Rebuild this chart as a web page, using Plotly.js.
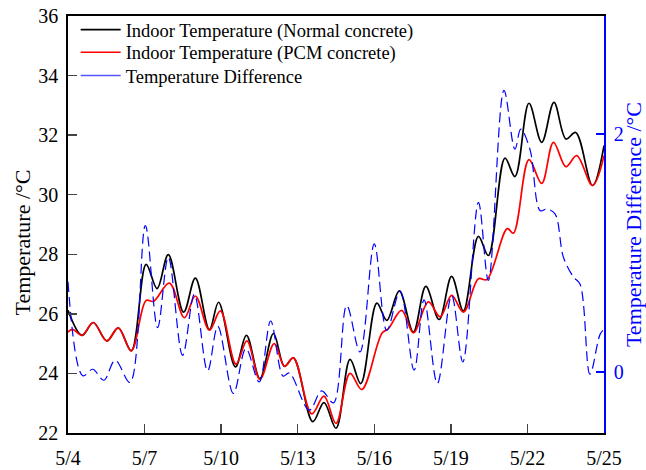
<!DOCTYPE html>
<html>
<head>
<meta charset="utf-8">
<script src="https://cdn.plot.ly/plotly-3.0.1.min.js"></script>
<style>html,body{margin:0;padding:0;background:#fff;}#chart{width:646px;height:470px;}</style>
</head>
<body>
<div id="chart"></div>
<script>
// Day offsets from 5/4
const tickDays = [0, 3, 6, 9, 12, 15, 18, 21];
const tickLabels = ['5/4', '5/7', '5/10', '5/13', '5/16', '5/19', '5/22', '5/25'];

const normalDays = [0, 0.55, 0.99, 1.52, 1.97, 2.48, 3.06, 3.49, 3.93, 4.53, 4.99, 5.54, 5.90, 6.56, 6.99, 7.52, 8.05, 8.48, 8.83, 9.59, 10.03, 10.5, 11.05, 11.47, 12.1, 12.49, 12.98, 13.53, 14.02, 14.54, 15.03, 15.49, 16.08, 16.47, 17.12, 17.51, 18.06, 18.56, 19.04, 19.51, 19.89, 20.55, 21];
const normalTemp = [26.12, 25.28, 25.71, 25.09, 25.53, 24.76, 27.66, 26.85, 27.99, 26.06, 27.20, 25.47, 26.39, 24.22, 25.28, 23.83, 25.34, 24.24, 24.52, 22.38, 23.02, 22.16, 24.47, 23.66, 26.36, 25.78, 26.77, 25.39, 26.92, 25.81, 27.26, 26.10, 28.60, 27.96, 31.23, 30.61, 33.07, 31.76, 33.10, 31.87, 32.09, 30.31, 31.65];

const pcmDays = [0, 0.18, 0.55, 0.99, 1.52, 1.97, 2.48, 3.06, 3.35, 3.97, 4.56, 4.99, 5.54, 5.97, 6.58, 7.01, 7.52, 8.08, 8.48, 8.83, 9.55, 10.03, 10.5, 11.05, 11.51, 12.3, 12.55, 13.07, 13.53, 14.12, 14.58, 15.03, 15.49, 16.08, 16.41, 17.21, 17.45, 18.06, 18.56, 19.02, 19.51, 19.93, 20.55, 21];
const pcmTemp = [25.39, 25.48, 25.28, 25.71, 25.09, 25.53, 24.76, 26.45, 26.42, 27.03, 25.87, 26.60, 25.45, 26.10, 24.31, 25.09, 23.80, 25.00, 24.24, 24.52, 22.64, 23.24, 22.32, 24.00, 23.46, 25.35, 25.50, 26.12, 25.36, 26.40, 25.90, 26.62, 26.06, 27.18, 27.15, 28.86, 28.71, 31.18, 30.38, 31.76, 30.94, 31.31, 30.31, 31.31];

const diffDays = [0, 0.58, 0.97, 1.4, 1.85, 2.43, 3.03, 3.51, 3.93, 4.49, 4.95, 5.47, 5.87, 6.48, 6.97, 7.49, 7.94, 8.43, 8.67, 9.45, 9.94, 10.4, 10.92, 11.44, 12.0, 12.49, 13.01, 13.56, 13.95, 14.47, 15.03, 15.47, 16.08, 16.47, 17.08, 17.51, 17.74, 18.1, 18.5, 18.76, 19.08, 19.41, 19.8, 20.06, 20.45, 20.85, 21];
const diffTemp = [0.76, -0.03, 0.025, -0.067, 0.10, -0.086, 1.23, 0.374, 0.965, 0.142, 0.653, 0.011, 0.385, -0.178, 0.198, -0.081, 0.43, -0.033, -0.005, -0.318, -0.156, -0.257, 0.56, 0.17, 1.077, 0.351, 0.68, 0.017, 0.608, -0.095, 0.644, 0.086, 1.425, 0.77, 2.366, 1.872, 2.04, 1.87, 1.356, 1.37, 1.33, 0.965, 0.80, 0.74, -0.017, 0.32, 0.36];

const FONT = 'Liberation Serif, Times New Roman, serif';

const traces = [
  {x: normalDays, y: normalTemp, name: 'Indoor Temperature (Normal concrete)', type: 'scatter', mode: 'lines',
   legend: 'legend',
   line: {color: '#000000', width: 1.7, shape: 'spline', smoothing: 1}},
  {x: pcmDays, y: pcmTemp, name: 'Indoor Temperature (PCM concrete)', type: 'scatter', mode: 'lines',
   legend: 'legend2',
   line: {color: '#ff0000', width: 1.7, shape: 'spline', smoothing: 1}},
  {x: diffDays, y: diffTemp, name: 'Temperature Difference', type: 'scatter', mode: 'lines', yaxis: 'y2',
   showlegend: false,
   line: {color: '#0000ff', width: 1.2, dash: '10px,5px', shape: 'spline', smoothing: 1}},
  // legend key only (solid sample, as in the reference)
  {x: [null], y: [null], name: 'Temperature Difference', type: 'scatter', mode: 'lines', yaxis: 'y2',
   legend: 'legend3',
   line: {color: '#5555ff', width: 1.5}}
];

function leg(y) {
  return {x: 0.0143, y: y, xanchor: 'left', yanchor: 'middle', bgcolor: 'rgba(0,0,0,0)',
          font: {family: FONT, size: 18.5, color: '#000'}, itemwidth: 40};
}

const layout = {
  width: 646, height: 470,
  margin: {l: 68, r: 42, t: 15, b: 37},
  paper_bgcolor: '#fff', plot_bgcolor: '#fff',
  font: {family: FONT, size: 19, color: '#000'},
  showlegend: true,
  legend: leg(0.964),
  legend2: leg(0.9098),
  legend3: leg(0.854),
  xaxis: {range: [0, 21], tickvals: tickDays, ticktext: tickLabels, ticks: 'inside', ticklen: 9, tickwidth: 1.5,
          showline: true, linecolor: '#000', linewidth: 1.8, mirror: true, showgrid: false, zeroline: false,
          ticklabelstandoff: 6,
          tickfont: {family: FONT, size: 20, color: '#000'}},
  yaxis: {range: [22, 36], tickvals: [22, 24, 26, 28, 30, 32, 34, 36], ticks: 'inside', ticklen: 9, tickwidth: 1.5,
          showline: true, linecolor: '#000', linewidth: 1.8, showgrid: false, zeroline: false,
          ticklabelstandoff: 4,
          tickfont: {family: FONT, size: 20, color: '#000'}},
  yaxis2: {overlaying: 'y', side: 'right', range: [-0.51, 2.99], tickvals: [0, 2], ticks: 'inside', ticklen: 8, tickwidth: 1.5,
           showline: true, linecolor: '#0000ff', linewidth: 1.8, showgrid: false, zeroline: false,
           tickcolor: '#0000ff', ticklabelstandoff: 4,
           title: {text: 'Temperature Difference /°C', font: {family: FONT, size: 22, color: '#0000ff'}, standoff: 6},
           tickfont: {family: FONT, size: 20, color: '#0000ff'}},
  annotations: [
    {text: 'Temperature /°C', xref: 'paper', yref: 'paper', x: -0.0858, y: 0.457,
     xanchor: 'center', yanchor: 'middle', textangle: -90, showarrow: false,
     font: {family: FONT, size: 22, color: '#000'}}
  ]
};

Plotly.newPlot('chart', traces, layout, {displayModeBar: false, staticPlot: true});
</script>
</body>
</html>
